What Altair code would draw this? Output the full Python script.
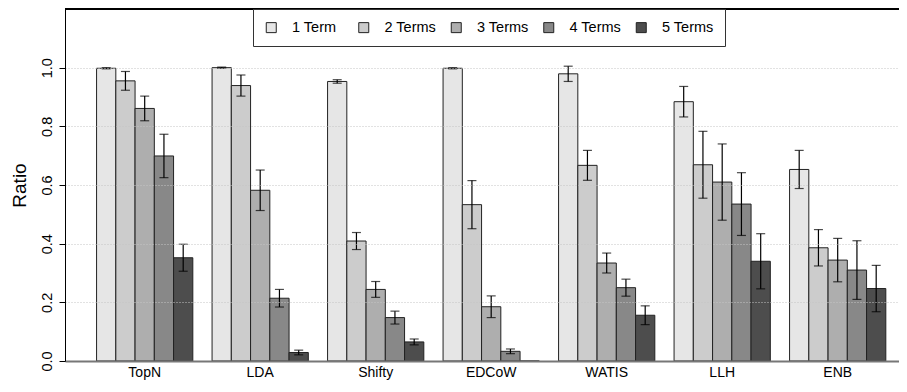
import altair as alt
import pandas as pd

methods = ["TopN", "LDA", "Shifty", "EDCoW", "WATIS", "LLH", "ENB"]
terms = ["1 Term", "2 Terms", "3 Terms", "4 Terms", "5 Terms"]
colors = ["#E6E6E6", "#CCCCCC", "#AEAEAE", "#888888", "#4D4D4D"]

t1 = [0.998, 1.000, 0.953, 0.998, 0.979, 0.884, 0.653]
t2 = [0.955, 0.939, 0.409, 0.533, 0.667, 0.669, 0.386]
t3 = [0.861, 0.582, 0.244, 0.185, 0.334, 0.610, 0.344]
t4 = [0.699, 0.214, 0.148, 0.033, 0.250, 0.535, 0.310]
t5 = [0.352, 0.029, 0.065, 0.000, 0.156, 0.340, 0.247]

e1 = [0.002, 0.002, 0.006, 0.002, 0.026, 0.052, 0.065]
e2 = [0.032, 0.036, 0.029, 0.082, 0.051, 0.114, 0.062]
e3 = [0.042, 0.069, 0.027, 0.037, 0.034, 0.130, 0.074]
e4 = [0.074, 0.030, 0.022, 0.008, 0.029, 0.107, 0.100]
e5 = [0.046, 0.008, 0.010, 0.000, 0.032, 0.094, 0.079]

y_ticks = [0.0, 0.2, 0.4, 0.6, 0.8, 1.0]

rows = []
for term, vals, errs in zip(terms, [t1, t2, t3, t4, t5], [e1, e2, e3, e4, e5]):
    for m, v, e in zip(methods, vals, errs):
        rows.append({"method": m, "terms": term, "value": v,
                     "lo": max(v - e, 0.0), "hi": v + e, "has_err": e > 0})
df = pd.DataFrame(rows)

FONT = "Liberation Sans"
PLOT_W = 834
PLOT_H = 352

x_enc = alt.X("method:N", sort=methods,
              scale=alt.Scale(paddingInner=1/6, paddingOuter=0.19375,
                              align=0.7054),
              axis=alt.Axis(title=None, ticks=False, labelAngle=0,
                            labelFontSize=14, labelColor="black",
                            labelPadding=4, domainColor="#777777",
                            domainWidth=2, zindex=1, labelFont=FONT))
xo_enc = alt.XOffset("terms:N", sort=terms,
                     scale=alt.Scale(paddingInner=0, paddingOuter=0))
y_scale = alt.Scale(domain=[0, 1.2], nice=False, zero=True)

base = alt.Chart(df).encode(x=x_enc, xOffset=xo_enc)

bars = base.mark_bar(stroke="#222222", strokeWidth=1).encode(
    y=alt.Y("value:Q", scale=y_scale,
            axis=alt.Axis(values=y_ticks, format=".1f", title="Ratio",
                          grid=True, gridColor="#c4c4c4", gridDash=[1, 2],
                          gridWidth=1, tickSize=6, tickColor="black",
                          domainColor="black", labelAngle=270,
                          labelAlign="center", labelBaseline="alphabetic",
                          labelPadding=8, labelFontSize=14.5,
                          labelColor="black", labelFont=FONT,
                          titleFontSize=19, titleFontWeight="normal",
                          titleFont=FONT, titleAngle=270, titleX=-40,
                          titleY=PLOT_H / 2, titleAlign="center",
                          titleBaseline="alphabetic", zindex=1)),
    color=alt.Color("terms:N", sort=terms,
                    scale=alt.Scale(domain=terms, range=colors),
                    legend=alt.Legend(title=None, orient="none", legendX=188,
                                      legendY=0, direction="horizontal",
                                      columns=5, gridAlign="all",
                                      strokeColor="#333333", fillColor="white",
                                      padding=11, symbolType="square",
                                      symbolSize=100, symbolStrokeColor="#222222",
                                      symbolStrokeWidth=1, symbolOpacity=1,
                                      labelFontSize=14.5, labelFont=FONT,
                                      labelColor="black", labelOffset=13.5,
                                      columnPadding=12.5)),
)

err_df = base.transform_filter("datum.has_err")
rules = err_df.mark_rule(color="black", strokeWidth=1.2).encode(
    y=alt.Y("lo:Q", scale=y_scale), y2="hi:Q")
cap_hi = err_df.mark_tick(color="black", size=9, thickness=1.2).encode(
    y=alt.Y("hi:Q", scale=y_scale))
cap_lo = err_df.mark_tick(color="black", size=9, thickness=1.2).encode(
    y=alt.Y("lo:Q", scale=y_scale))

top_line = alt.Chart(df).mark_rule(color="black", strokeWidth=1).encode(
    y=alt.value(0))

chart = alt.layer(bars, rules, cap_hi, cap_lo, top_line).properties(
    width=PLOT_W, height=PLOT_H,
    padding={"left": 57, "top": 1, "right": 0, "bottom": 22},
    autosize=alt.AutoSizeParams(type="none"),
).configure_view(strokeWidth=0).configure(
    font=FONT, background="white")

chart.save("out.html", embed_options={"renderer": "svg", "actions": False})
